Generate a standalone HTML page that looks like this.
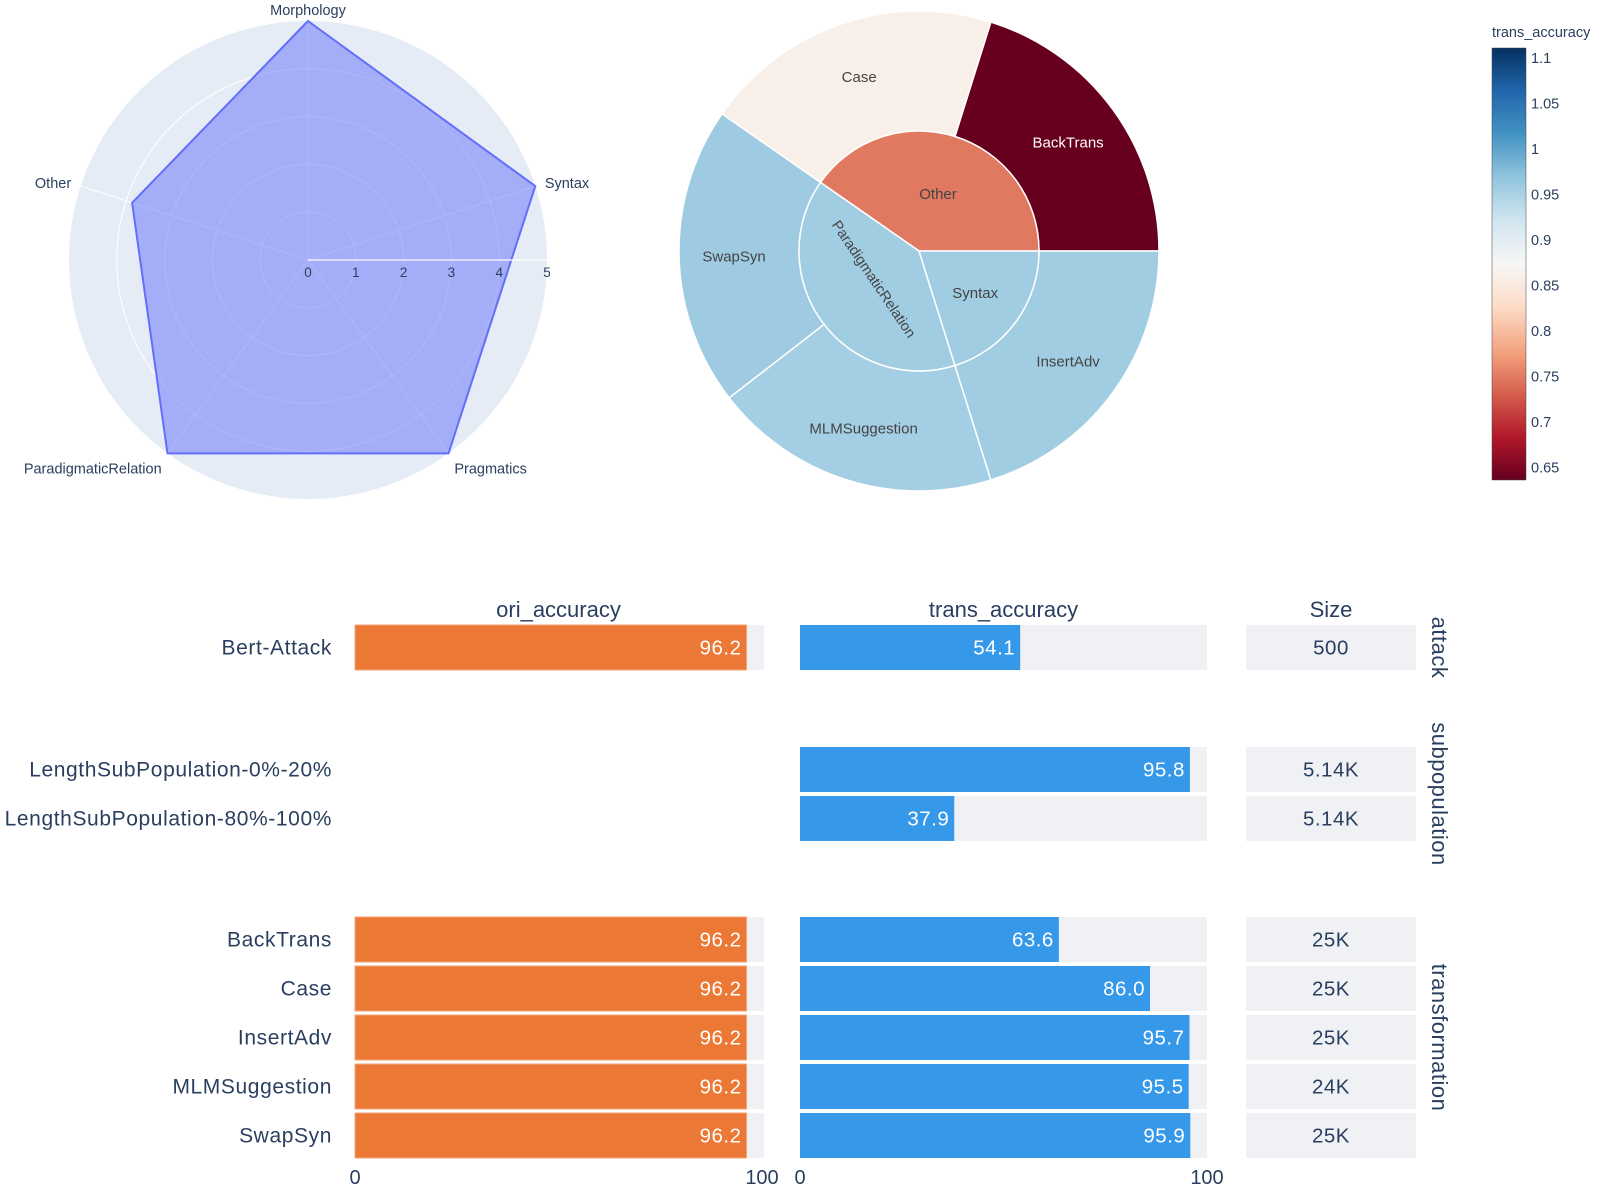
<!DOCTYPE html>
<html><head><meta charset="utf-8"><style>
body{margin:0;background:#fff;}
svg{display:block;font-family:"Liberation Sans","DejaVu Sans",sans-serif;}
</style></head><body>
<svg id="chart" width="1600" height="1186" viewBox="0 0 1600 1186"></svg>
<script>
// ---- radar data ----
const radarCats = ['Morphology','Syntax','Pragmatics','ParadigmaticRelation','Other'];
const radarVals = [5, 5, 5, 5, 3.87];
const radarTicks = [0,1,2,3,4,5];
// ---- sunburst data ----
const sbParents = ['Other','ParadigmaticRelation','Syntax'];
const sbParentAcc = [0.748, 0.957, 0.957];
const sbLeaves = ['BackTrans','Case','SwapSyn','MLMSuggestion','InsertAdv'];
const sbLeafParent = ['Other','Other','ParadigmaticRelation','ParadigmaticRelation','Syntax'];
const sbLeafSize = [25, 25, 25, 24, 25];
const sbLeafAcc = [0.636, 0.860, 0.959, 0.955, 0.957];
const cbTicks = [0.65,0.7,0.75,0.8,0.85,0.9,0.95,1,1.05,1.1];
// ---- bar table data ----
const rowLabels = ['Bert-Attack','LengthSubPopulation-0%-20%','LengthSubPopulation-80%-100%','BackTrans','Case','InsertAdv','MLMSuggestion','SwapSyn'];
const oriAcc = [96.2, null, null, 96.2, 96.2, 96.2, 96.2, 96.2];
const transAcc = [54.1, 95.8, 37.9, 63.6, 86.0, 95.7, 95.5, 95.9];
const sizeLabels = ['500','5.14K','5.14K','25K','25K','25K','24K','25K'];
const groupNames = ['attack','subpopulation','transformation'];
const groupOfRow = [0,1,1,2,2,2,2,2];
const xTicks = [0,100];

const svg = document.getElementById('chart');
const NS = 'http://www.w3.org/2000/svg';
function mk(tag, attrs, parent){ const e=document.createElementNS(NS,tag); for(const k in attrs) e.setAttribute(k,attrs[k]); (parent||svg).appendChild(e); return e; }
const TXT='#2a3f5f';

// ===== RADAR =====
const rcx=308, rcy=260, rR=239, rMax=5;
const rScale = v => v/rMax*rR;
const ang = i => (90 - i*72)*Math.PI/180;
const gRadar = mk('g',{});


const bg = mk('circle',{cx:rcx,cy:rcy,r:rR,fill:'#e5ecf6'},gRadar);


radarTicks.forEach(t=>{ if(t>0&&t<rMax){ const c=mk('circle',{cx:rcx,cy:rcy,r:rScale(t),fill:'none',stroke:'#fff','stroke-width':1},gRadar);
    }});
radarCats.forEach((c,i)=>{ const a=ang(i); const l=mk('line',{x1:rcx,y1:rcy,x2:rcx+rR*Math.cos(a),y2:rcy-rR*Math.sin(a),stroke:'#fff','stroke-width':1},gRadar);
    });
const pts = radarVals.map((v,i)=>{ const a=ang(i); return (rcx+rScale(v)*Math.cos(a)).toFixed(1)+','+(rcy-rScale(v)*Math.sin(a)).toFixed(1); }).join(' ');
const poly = mk('polygon',{points:pts,fill:'rgba(99,110,250,0.5)',stroke:'#636efa','stroke-width':2},gRadar);


const ax = mk('line',{x1:rcx,y1:rcy,x2:rcx+rR,y2:rcy,stroke:'#fff','stroke-width':1.5,'stroke-opacity':0.8},gRadar);


radarTicks.forEach(t=>{ const e=mk('text',{x:rcx+rScale(t),y:rcy+17,'font-size':13.5,fill:TXT,'text-anchor':'middle'},gRadar); e.textContent=t;
    });
radarCats.forEach((c,i)=>{ const a=ang(i); const x=rcx+(rR+10)*Math.cos(a), y=rcy-(rR+10)*Math.sin(a);
  const anchor = Math.abs(Math.cos(a))<0.1?'middle':(Math.cos(a)>0?'start':'end');
  const e=mk('text',{x:x,y:y+(Math.sin(a)>0.9? 4: (Math.sin(a)<0?12:5)),'font-size':14.5,fill:TXT,'text-anchor':anchor},gRadar); e.textContent=c;
    });

// ===== colorscale =====
const cmin=0.636, cmax=1.111;
const rdbu=[[103,0,31],[178,24,43],[214,96,77],[244,165,130],[253,219,199],[247,247,247],[209,229,240],[146,197,222],[67,147,195],[33,102,172],[5,48,97]];
function cs(v){ let t=(v-cmin)/(cmax-cmin); t=Math.max(0,Math.min(1,t)); const p=t*10, i=Math.min(9,Math.floor(p)), f=p-i;
  const c=rdbu[i].map((x,k)=>Math.round(x+(rdbu[i+1][k]-x)*f)); return `rgb(${c})`; }

// ===== SUNBURST =====
const scx=919, scy=251, rIn=120, rOut=240;
const total = sbLeafSize.reduce((a,b)=>a+b,0);
const deg = v => v/total*360;
function arcPath(r0,r1,a0,a1){ const p=(r,a)=>[scx+r*Math.cos(a*Math.PI/180), scy-r*Math.sin(a*Math.PI/180)];
  const large=(a1-a0)>180?1:0; const [x0,y0]=p(r1,a0),[x1,y1]=p(r1,a1);
  if(r0===0){ return `M${scx},${scy}L${x0},${y0}A${r1},${r1} 0 ${large} 0 ${x1},${y1}Z`; }
  const [x2,y2]=p(r0,a1),[x3,y3]=p(r0,a0);
  return `M${x0},${y0}A${r1},${r1} 0 ${large} 0 ${x1},${y1}L${x2},${y2}A${r0},${r0} 0 ${large} 1 ${x3},${y3}Z`; }
const gSun = mk('g',{});


let a=0; const parentRange={};
sbLeaves.forEach((lf,i)=>{ const d=deg(sbLeafSize[i]); const p=sbLeafParent[i];
  if(!parentRange[p]) parentRange[p]=[a,a]; parentRange[p][1]=a+d;
  const path=mk('path',{d:arcPath(rIn,rOut,a,a+d),fill:cs(sbLeafAcc[i]),stroke:'#fff','stroke-width':1.5},gSun);
  
  
  const m=(a+d/2)*Math.PI/180, rr=(rIn+rOut)/2+5;
  const t=mk('text',{x:scx+rr*Math.cos(m),y:scy-rr*Math.sin(m)+6,'font-size':15,'text-anchor':'middle',fill:sbLeafAcc[i]<0.72?'#fff':'#444'},gSun); t.textContent=lf;
   
  a+=d; });
sbParents.forEach((p,i)=>{ const [a0,a1]=parentRange[p];
  const path=mk('path',{d:arcPath(0,rIn,a0,a1),fill:cs(sbParentAcc[i]),stroke:'#fff','stroke-width':1.5},gSun);
  
  
  const m=(a0+a1)/2*Math.PI/180, rr=rIn*0.55;
  const x=scx+rr*Math.cos(m), y=scy-rr*Math.sin(m);
  let t;
  if(p==='ParadigmaticRelation'){ t=mk('text',{x:scx-45,y:scy+33,'font-size':14.5,'text-anchor':'middle',fill:'#444',transform:`rotate(56 ${scx-45} ${scy+28})`},gSun); }
  else if(p==='Other'){ t=mk('text',{x:scx+19,y:scy-52,'font-size':15,'text-anchor':'middle',fill:'#444'},gSun); }
  else t=mk('text',{x:x+3,y:y+8,'font-size':15,'text-anchor':'middle',fill:'#444'},gSun);
  t.textContent=p;
    });

// ===== COLORBAR =====
const cbx=1492, cbw=34, cbTop=48, cbBot=480;
const cbY = v => cbBot - (v-cmin)/(cmax-cmin)*(cbBot-cbTop);
const defs=mk('defs',{}); const lg=mk('linearGradient',{id:'cbg',x1:0,y1:1,x2:0,y2:0},defs);
rdbu.forEach((c,i)=>mk('stop',{offset:i/10,'stop-color':`rgb(${c})`},lg));
const cbr=mk('rect',{x:cbx,y:cbTop,width:cbw,height:cbBot-cbTop,fill:'url(#cbg)',stroke:'#444','stroke-width':0.5});


const cbt=mk('text',{x:cbx,y:37,'font-size':14.5,fill:TXT}); cbt.textContent='trans_accuracy';
 
cbTicks.forEach(v=>{ const t=mk('text',{x:cbx+cbw+5,y:cbY(v)+5,'font-size':14.5,fill:TXT}); t.textContent=v;
    });

// ===== BAR TABLE =====
const oriX0=355, oriX100=762, trX0=800, trX100=1207, szX0=1246, szX1=1416;
const oriScale = v => oriX0 + v/100*(oriX100-oriX0);
const trScale = v => trX0 + v/100*(trX100-trX0);
const rowTop = [625, 747, 796, 917, 966, 1015, 1064, 1113];
const rowH = 45;
const ORANGE='#ec7835', BLUE='#3598e8', GRAY='#f0f1f5';
[['ori_accuracy',(oriX0+oriX100)/2],['trans_accuracy',(trX0+trX100)/2],['Size',(szX0+szX1)/2]].forEach(([s,x])=>{
  const t=mk('text',{x:x,y:617,'font-size':22,'text-anchor':'middle',fill:TXT}); t.textContent=s;
    });
rowLabels.forEach((lab,i)=>{
  const y=rowTop[i], cy=y+rowH/2+7;
  const t=mk('text',{x:332,y:cy,'font-size':21,'text-anchor':'end',fill:TXT,'letter-spacing':0.6}); t.textContent=lab;
   
  if(oriAcc[i]!==null){
    const b0=mk('rect',{x:oriX0,y:y,width:oriX100+2-oriX0,height:rowH,fill:GRAY});
     
    const b=mk('rect',{x:oriX0,y:y,width:oriScale(oriAcc[i])-oriX0,height:rowH,fill:ORANGE,stroke:'#f5a67a','stroke-width':1});
     
    const v=mk('text',{x:oriScale(oriAcc[i])-5,y:cy,'font-size':20.5,'text-anchor':'end',fill:'#fff','letter-spacing':0.5}); v.textContent=oriAcc[i].toFixed(1);
     
  }
  const g0=mk('rect',{x:trX0,y:y,width:trX100-trX0,height:rowH,fill:GRAY});
   
  const tb=mk('rect',{x:trX0,y:y,width:trScale(transAcc[i])-trX0,height:rowH,fill:BLUE});
   
  const tv=mk('text',{x:trScale(transAcc[i])-5,y:cy,'font-size':20.5,'text-anchor':'end',fill:'#fff','letter-spacing':0.5}); tv.textContent=transAcc[i].toFixed(1);
   
  const sb=mk('rect',{x:szX0,y:y,width:szX1-szX0,height:rowH,fill:GRAY});
   
  const sv=mk('text',{x:(szX0+szX1)/2,y:cy,'font-size':20.5,'text-anchor':'middle',fill:TXT,'letter-spacing':0.5}); sv.textContent=sizeLabels[i];
   
});
groupNames.forEach((g,gi)=>{
  const idx=groupOfRow.map((v,i)=>v===gi?i:-1).filter(i=>i>=0);
  const y0=rowTop[idx[0]], y1=rowTop[idx[idx.length-1]]+rowH, ym=(y0+y1)/2;
  const t=mk('text',{x:1432,y:ym,'font-size':22,'text-anchor':'middle',fill:TXT,transform:`rotate(90 1432 ${ym})`,'letter-spacing':0.5}); t.textContent=g;
   
});
xTicks.forEach(v=>{
  [[oriScale,'ori'],[trScale,'trans']].forEach(([f,n])=>{
    const t=mk('text',{x:f(v),y:1184,'font-size':20,'text-anchor':'middle',fill:TXT}); t.textContent=v;
      });
});
</script>
</body></html>
